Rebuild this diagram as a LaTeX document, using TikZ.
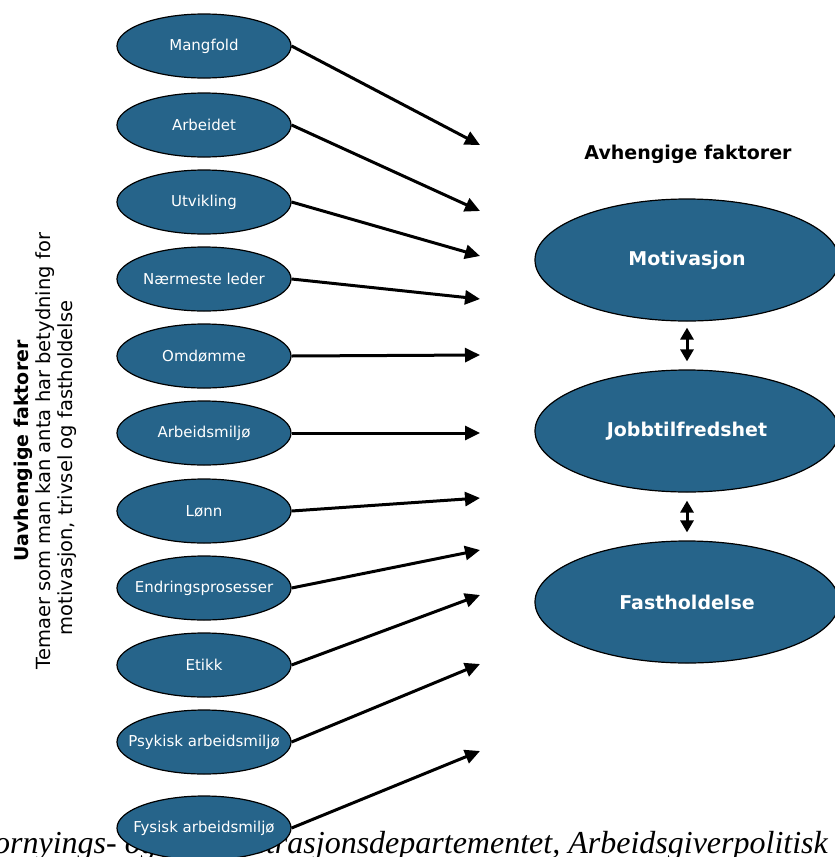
\documentclass[tikz,border=0pt]{standalone}
\usepackage{fontspec}
\setmainfont{DejaVu Sans}
\newfontfamily\serifit{Liberation Serif}
\usetikzlibrary{shapes.geometric,arrows.meta}
\definecolor{ellblue}{RGB}{38,100,138}
\begin{document}
\begin{tikzpicture}[x=1pt,y=-1pt,
  small/.style={ellipse, draw=black, line width=1.2pt, fill=ellblue, minimum width=174pt, minimum height=64pt, inner sep=0pt,
    label={[text=white, inner sep=0pt, font=\fontsize{15}{17}\selectfont]center:#1}},
  big/.style={ellipse, draw=black, line width=1.2pt, fill=ellblue, minimum width=304pt, minimum height=122pt, inner sep=0pt,
    label={[text=white, inner sep=0pt, font=\bfseries\fontsize{19}{22}\selectfont]center:#1}},
  arr/.style={line width=3pt, -{Triangle[length=15pt,width=14pt]}},
  dbl/.style={line width=3pt, {Triangle[length=12pt,width=13pt]}-{Triangle[length=12pt,width=13pt]}},
  sidetxt/.style={rotate=90, anchor=base, inner sep=0pt, font=\fontsize{19.5}{22}\selectfont}]
\useasboundingbox (0,0) rectangle (835,857);
\clip (0,0) rectangle (835,857);
\fill[white] (0,0) rectangle (835,857);

% source line (behind the ellipses)
\node[anchor=base east, inner sep=0pt, font=\serifit\itshape\fontsize{32}{36}\selectfont] (src) at (828,853) {Fornyings- og administrasjonsdepartementet, Arbeidsgiverpolitisk};

% side texts
\node[sidetxt, font=\bfseries\fontsize{19}{22}\selectfont] (uav) at (28,451) {Uavhengige faktorer};
\node[sidetxt] (tem) at (50,451) {Temaer som man kan anta har betydning for};
\node[sidetxt] (mot2) at (72,468) {motivasjon, trivsel og fastholdelse};

% independent factors
\node[small=Mangfold] (n1) at (204,46) {};
\node[small=Arbeidet] (n2) at (204,125) {};
\node[small=Utvikling] (n3) at (204,202) {};
\node[small=Nærmeste leder] (n4) at (204,279) {};
\node[small=Omdømme] (n5) at (204,356) {};
\node[small=Arbeidsmiljø] (n6) at (204,433) {};
\node[small=Lønn] (n7) at (204,511) {};
\node[small=Endringsprosesser] (n8) at (204,588) {};
\node[small=Etikk] (n9) at (204,665) {};
\node[small=Psykisk arbeidsmiljø] (n10) at (204,742) {};
\node[small=Fysisk arbeidsmiljø] (n11) at (204,828) {};

% arrow ends
\coordinate (t1) at (480,145);
\coordinate (t2) at (480,211);
\coordinate (t3) at (480,256);
\coordinate (t4) at (480,299);
\coordinate (t5) at (480,355);
\coordinate (t6) at (480,433);
\coordinate (t7) at (480,498);
\coordinate (t8) at (480,550);
\coordinate (t9) at (480,595);
\coordinate (t10) at (480,664);
\coordinate (t11) at (480,751);

\foreach \i in {1,...,11} {
  \draw[arr] (n\i.east) -- (t\i);
}

% dependent factors
\node[inner sep=0pt, font=\bfseries\fontsize{19}{22}\selectfont] (avh) at (688,154) {Avhengige faktorer};
\node[big=Motivasjon] (m) at (687,260) {};
\node[big=Jobbtilfredshet] (j) at (687,431) {};
\node[big=Fastholdelse] (f) at (687,602) {};

\draw[dbl, shorten <=6pt, shorten >=8pt] (m.south) -- (j.north);
\draw[dbl, shorten <=8pt, shorten >=8pt] (j.south) -- (f.north);
\end{tikzpicture}
\end{document}
